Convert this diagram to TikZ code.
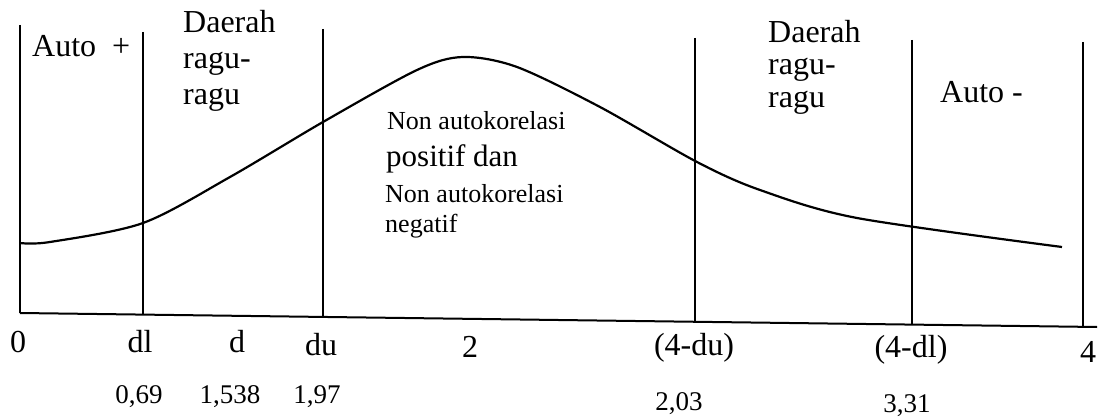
\documentclass[tikz,border=0pt]{standalone}
\usepackage{fontspec}
\setmainfont{Liberation Serif}
\begin{document}
\begin{tikzpicture}[x=1pt,y=-1pt,
  vline/.style={line width=1.5pt},
  curveline/.style={line width=2.2pt},
  lbl/.style={inner sep=0pt,anchor=base west,font=\fontsize{32}{36}\selectfont},
  midsmall/.style={inner sep=0pt,anchor=base west,font=\fontsize{26}{30}\selectfont},
  midbig/.style={inner sep=0pt,anchor=base west,font=\fontsize{31}{35}\selectfont},
  axl/.style={inner sep=0pt,anchor=base,font=\fontsize{32}{36}\selectfont},
  num/.style={inner sep=0pt,anchor=base,font=\fontsize{27}{30}\selectfont}]
\useasboundingbox (0,0) rectangle (1099,419);
% baseline
\coordinate (b0) at (20,313);
\coordinate (b1) at (1097,327);
\draw[line width=2pt] (b0) -- (b1);
% vertical lines
\draw[vline] (20,25) -- (20,313);
\draw[vline] (143,32) -- (143,315);
\draw[vline] (323,29) -- (323,317);
\draw[vline] (695,38) -- (695,322);
\draw[vline] (912,40) -- (912,325);
\draw[vline] (1083,42) -- (1083,327);
% curve
\draw[curveline] plot[smooth,tension=0.5] coordinates {(20,243) (50,242) (143,223) (230,177) (323,122) (417,70) (463,57) (517,67) (600,107) (697,162) (760,190) (857,218) (1062,247)};
% region labels
\node[lbl] (autoplus) at (32,57) {Auto\hspace{0.5em}+};
\node[lbl] (d1a) at (183,33) {Daerah};
\node[lbl] (d1b) at (183,69) {ragu-};
\node[lbl] (d1c) at (183,105) {ragu};
\node[lbl] (d2a) at (768,43) {Daerah};
\node[lbl] (d2b) at (768,75) {ragu-};
\node[lbl] (d2c) at (768,108) {ragu};
\node[lbl] (automin) at (940,103) {Auto -};
\node[midsmall] (m1) at (387,130) {Non autokorelasi};
\node[midbig] (m2) at (386,167) {positif dan};
\node[midsmall] (m3) at (385,203) {Non autokorelasi};
\node[midsmall] (m4) at (385,233) {negatif};
% axis labels
\node[axl] (a0) at (18,352) {0};
\node[axl] (adl) at (140,352) {dl};
\node[axl] (ad) at (237,352) {d};
\node[axl] (adu) at (321,355) {du};
\node[axl] (a2) at (470,357) {2};
\node[axl] (a4du) at (694,355) {(4-du)};
\node[axl] (a4dl) at (911,357) {(4-dl)};
\node[axl] (a4) at (1088,362) {4};
% values
\node[num] (v1) at (139,403) {0,69};
\node[num] (v2) at (230,403) {1,538};
\node[num] (v3) at (317,403) {1,97};
\node[num] (v4) at (679,410) {2,03};
\node[num] (v5) at (907,412) {3,31};
\end{tikzpicture}
\end{document}
